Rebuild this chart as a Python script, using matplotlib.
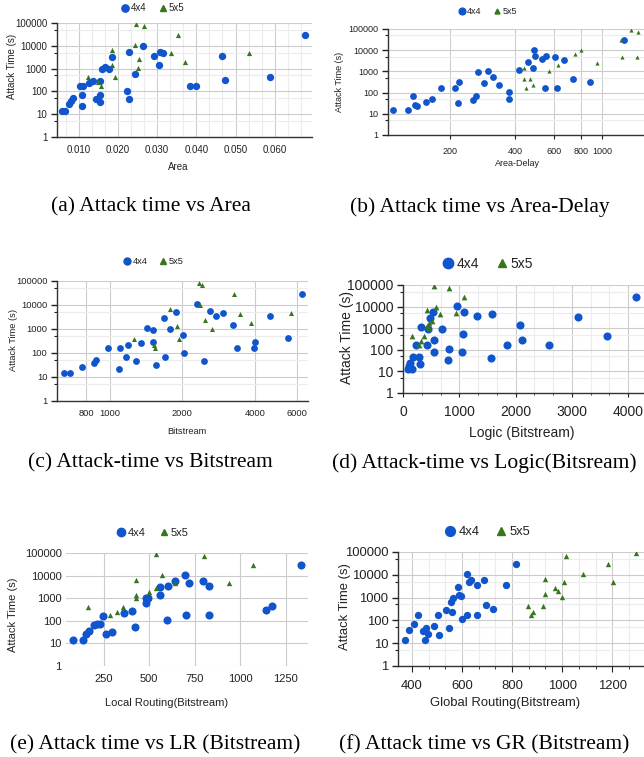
import numpy as np
import matplotlib.pyplot as plt
from matplotlib.lines import Line2D

plt.rcParams['font.family'] = ['Liberation Sans', 'DejaVu Sans']

BLUE = '#1155cc'
GREEN = '#38761d'
W, H = 644, 757

# (a) attack time vs area
area_4x4 = [0.0057, 0.0065, 0.0075, 0.0080, 0.0086, 0.0103, 0.0112, 0.0109, 0.0109, 0.0127,
            0.0137, 0.0144, 0.0154, 0.0154, 0.0154, 0.0159, 0.0167, 0.0178, 0.0186, 0.0224,
            0.0229, 0.0228, 0.0245, 0.0263, 0.0293, 0.0306, 0.0308, 0.0316, 0.0465, 0.0474,
            0.0384, 0.0400, 0.0587, 0.0676]
area_4x4_time = [14, 14, 28, 37, 52, 170, 170, 73, 24, 240,
                 285, 46, 69, 295, 33, 960, 1140, 960, 3070, 107,
                 45, 5600, 580, 10300, 3600, 1440, 5600, 4700, 3400, 305,
                 170, 170, 445, 29500]
area_5x5 = [0.0123, 0.0149, 0.0156, 0.0184, 0.0184, 0.0193, 0.0246, 0.0268, 0.0244, 0.0255,
            0.0251, 0.0335, 0.0353, 0.0370, 0.0534]
area_5x5_time = [414, 268, 172, 6700, 1400, 414, 90000, 71000, 10700, 2600,
                 1030, 4700, 28600, 1900, 4700]

# (b) attack time vs area-delay
ad_4x4 = [110, 129, 136, 138, 141, 156, 165, 183, 212, 221, 218, 255, 264, 268, 288, 298, 316,
          335, 374, 372, 414, 457, 482, 485, 490, 529, 552, 548, 605, 621, 668, 735, 875, 1265]
ad_4x4_time = [14.5, 14.5, 71, 27, 23, 38, 51, 170, 170, 300, 32, 46, 66, 920, 270, 990, 570,
               225, 105, 49, 1180, 2900, 1420, 10700, 5600, 3750, 5600, 174, 4650, 174, 3500,
               445, 300, 29000]
ad_5x5 = [436, 436, 449, 468, 480, 572, 627, 750, 802, 948, 1222, 1230, 1352, 1458, 1449]
ad_5x5_time = [1420, 430, 174, 430, 233, 1020, 1900, 6700, 10700, 2600, 29000, 4650, 89000,
               72000, 4650]

# (c) attack time vs bitstream
bits_4x4 = [644, 683, 767, 859, 881, 985, 1090, 1107, 1165, 1195, 1282, 1353, 1428, 1507, 1513,
            1552, 1680, 1701, 1773, 1883, 2006, 2039, 2293, 2459, 2597, 2748, 2949, 3243, 3360,
            3953, 3993, 4605, 5483, 6265]
bits_4x4_time = [14, 14, 27, 37, 49, 162, 22, 166, 68, 215, 46, 262, 1100, 910, 297,
                 32, 2870, 68, 970, 5300, 545, 103, 10700, 45, 5600, 3600, 4460, 1420, 166,
                 166, 297, 3380, 437, 27800]
bits_5x5 = [1265, 1527, 1546, 1779, 1900, 1945, 2338, 2415, 2361, 2478, 2662, 3274, 3467, 3852, 5640]
bits_5x5_time = [400, 223, 166, 6600, 1370, 400, 85000, 70000, 10300, 2450, 1000, 27800, 4360,
                 1780, 4650]

# (d) attack time vs logic bitstream
logic_4x4 = [89, 160, 130, 110, 177, 290, 295, 225, 325, 420, 437, 485, 532, 555, 544, 691, 798,
             821, 957, 1046, 1058, 1093, 1323, 1566, 1589, 1843, 2080, 2115, 2600, 3114, 3634, 4136]
logic_4x4_time = [13.3, 13.3, 24, 18, 47, 47, 22.6, 170, 1100, 160, 950, 2900, 5500, 290, 75, 930,
                  35, 107, 11000, 75, 550, 5650, 3700, 44, 4750, 165, 1420, 290, 170, 3330, 445,
                  29000]
logic_5x5 = [160, 278, 313, 366, 425, 431, 467, 514, 579, 650, 544, 809, 1081, 945, 460]
logic_5x5_time = [415, 170, 260, 415, 6600, 1290, 1700, 2180, 10000, 4600, 90000, 76000, 29000,
                  4900, 1000]

# (e) attack time vs local routing bitstream
lr_4x4 = [80, 137, 155, 168, 195, 214, 232, 245, 263, 296, 363, 405, 423, 484, 484, 496, 560, 560,
          600, 606, 642, 697, 701, 719, 797, 828, 828, 1144, 1172, 1336]
lr_4x4_time = [13.9, 13.9, 25.6, 36, 64, 72, 69, 168, 25, 32.5, 230, 280, 51, 1000, 590, 1000,
               1400, 3080, 108, 3640, 5500, 10900, 180, 4600, 5500, 3300, 180, 300, 450, 28000]
lr_5x5 = [164, 286, 323, 359, 429, 429, 429, 500, 536, 569, 536, 642, 801, 938, 1071]
lr_5x5_time = [425, 180, 236, 425, 6500, 1400, 1060, 1960, 2770, 10900, 91000, 4600, 71000,
               4900, 28000]

# (f) attack time vs global routing bitstream
gr_4x4 = [371, 387, 409, 423, 443, 453, 456, 464, 488, 504, 509, 537, 547, 557, 559, 565, 585,
          588, 596, 599, 620, 621, 628, 636, 661, 660, 688, 696, 725, 775, 816]
gr_4x4_time = [14.3, 36.6, 67, 167, 33, 14.3, 46, 26, 55, 167, 24, 275, 48, 640, 233, 960, 2900,
               1250, 1140, 112, 167, 11200, 4800, 5900, 3450, 167, 5700, 457, 305, 3700, 28700]
gr_5x5 = [863, 883, 877, 923, 931, 933, 973, 984, 1000, 1009, 1016, 1083, 1184, 1204, 1297]
gr_5x5_time = [415, 234, 178, 415, 1390, 6580, 2560, 1950, 1070, 4680, 69000, 10900, 28700,
               4800, 91000]

y_ticks = [1, 10, 100, 1000, 10000, 100000]
y_minor = [5, 50, 500, 5000, 50000]

panels = [
    dict(x4=area_4x4, y4=area_4x4_time, x5=area_5x5, y5=area_5x5_time,
         box=(57, 312, 23, 137), xlim=(0.0045, 0.0695), log=False,
         xticks=[0.01, 0.02, 0.03, 0.04, 0.05, 0.06],
         xlabels=['0.010', '0.020', '0.030', '0.040', '0.050', '0.060'], thirds=True,
         fs=7, s4=28, s5=14, spines=True, xtick_len=0,
         leg=(152, 8), ylab=(12, 66), xlab=(178, 167, 'Area'),
         cap=(151, 207, '(a) Attack time vs Area')),
    dict(x4=ad_4x4, y4=ad_4x4_time, x5=ad_5x5, y5=ad_5x5_time,
         box=(388, 644, 29, 135), xlim=(104, 1555), log=True,
         xticks=[200, 400, 600, 800, 1000], xlabels=['200', '400', '600', '800', '1000'],
         thirds=False, fs=6.5, s4=24, s5=9, spines=True, xtick_len=3,
         leg=(487, 12), ylab=(340, 82), xlab=(517, 164, 'Area-Delay'),
         cap=(480, 207, '(b) Attack time vs Area-Delay')),
    dict(x4=bits_4x4, y4=bits_4x4_time, x5=bits_5x5, y5=bits_5x5_time,
         box=(57, 308, 281, 401), xlim=(605, 6640), log=True,
         xticks=[800, 1000, 2000, 4000, 6000], xlabels=['800', '1000', '2000', '4000', '6000'],
         thirds=False, fs=6.7, s4=24, s5=13, spines=True, xtick_len=0,
         leg=(153, 262), ylab=(13, 340), xlab=(187, 431, 'Bitstream'),
         cap=(150, 463, '(c) Attack-time vs Bitstream')),
    dict(x4=logic_4x4, y4=logic_4x4_time, x5=logic_5x5, y5=logic_5x5_time,
         box=(403, 644, 285, 393), xlim=(0, 4284), log=False,
         xticks=[0, 1000, 2000, 3000, 4000], xlabels=['0', '1000', '2000', '3000', '4000'],
         thirds=True, fs=10, s4=34, s5=17, spines=True, xtick_len=3,
         leg=(487, 264), ylab=(347, 337), xlab=(522, 433, 'Logic (Bitstream)'),
         cap=(484, 463, '(d) Attack-time vs Logic(Bitsream)')),
    dict(x4=lr_4x4, y4=lr_4x4_time, x5=lr_5x5, y5=lr_5x5_time,
         box=(66, 308, 553, 666), xlim=(44, 1372), log=False,
         xticks=[250, 500, 750, 1000, 1250], xlabels=['250', '500', '750', '1000', '1250'],
         thirds=False, fs=8, s4=34, s5=15, spines=False, xtick_len=0,
         leg=(152, 533), ylab=(13, 615), xlab=(167, 703, 'Local Routing(Bitstream)'),
         cap=(155, 745, '(e) Attack time vs LR (Bitstream)')),
    dict(x4=gr_4x4, y4=gr_4x4_time, x5=gr_5x5, y5=gr_5x5_time,
         box=(398, 644, 552, 666), xlim=(344, 1327), log=False,
         xticks=[400, 600, 800, 1000, 1200], xlabels=['400', '600', '800', '1000', '1200'],
         thirds=True, fs=9.4, s4=28, s5=15, spines=True, xtick_len=4,
         leg=(487, 532), ylab=(345, 607), xlab=(505, 703, 'Global Routing(Bitstream)'),
         cap=(484, 745, '(f) Attack time vs GR (Bitstream)')),
]

fig = plt.figure(figsize=(W / 100, H / 100), dpi=100)

for p in panels:
    x0, x1, y0, y1 = p['box']
    ax = fig.add_axes([x0 / W, 1 - y1 / H, (x1 - x0) / W, (y1 - y0) / H])
    ax.set_yscale('log')
    if p['log']:
        ax.set_xscale('log')
    ax.set_ylim(1, 100000)
    ax.set_xlim(*p['xlim'])

    ax.scatter(p['x4'], p['y4'], s=p['s4'], color=BLUE, marker='o', linewidths=0, zorder=3)
    ax.scatter(p['x5'], p['y5'], s=p['s5'], color=GREEN, marker='^', linewidths=0, zorder=3)

    ax.set_yticks(y_ticks)
    ax.set_yticklabels([str(v) for v in y_ticks])
    ax.set_xticks(p['xticks'])
    ax.set_xticklabels(p['xlabels'])
    minor_x = []
    if p['thirds']:
        step = p['xticks'][1] - p['xticks'][0]
        k = np.arange(-6, 3 * len(p['xticks']) + 6)
        minor_x = [p['xticks'][0] + i * step / 3 for i in k if i % 3 != 0]
        minor_x = [m for m in minor_x if p['xlim'][0] < m < p['xlim'][1]]
    ax.set_xticks(minor_x, minor=True)
    ax.set_yticks(y_minor if p['spines'] else [], minor=True)
    ax.tick_params(axis='both', which='both', labelsize=p['fs'], colors='#222222')
    ax.tick_params(axis='y', which='major', length=4 if p['spines'] else 0, width=1, pad=3)
    ax.tick_params(axis='y', which='minor', length=2.5, width=0.8)
    ax.tick_params(axis='x', which='major', length=p['xtick_len'], pad=6)
    ax.tick_params(axis='x', which='minor', length=p['xtick_len'] * 0.6)

    ax.grid(True, which='major', color='#cccccc', linewidth=0.8, zorder=0)
    ax.grid(True, which='minor', color='#ececec', linewidth=0.8, zorder=0)
    ax.set_axisbelow(True)
    for side in ['top', 'right']:
        ax.spines[side].set_visible(False)
    for side in ['left', 'bottom']:
        if p['spines']:
            ax.spines[side].set_color('#333333')
            ax.spines[side].set_linewidth(1)
        else:
            ax.spines[side].set_visible(False)

    handles = [Line2D([], [], marker='o', color=BLUE, linestyle='', markersize=p['fs'] * 0.75),
               Line2D([], [], marker='^', color=GREEN, linestyle='', markersize=p['fs'] * 0.55)]
    fig.legend(handles, ['4x4', '5x5'], loc='center', ncol=2, frameon=False,
               bbox_to_anchor=(p['leg'][0] / W, 1 - p['leg'][1] / H),
               fontsize=p['fs'], handletextpad=0.1, columnspacing=1.2, handlelength=1.0,
               labelcolor='#222222')

    fig.text(p['ylab'][0] / W, 1 - p['ylab'][1] / H, 'Attack Time (s)', rotation=90,
             ha='center', va='center', fontsize=p['fs'], color='#222222')
    fig.text(p['xlab'][0] / W, 1 - p['xlab'][1] / H, p['xlab'][2],
             ha='center', va='center', fontsize=p['fs'], color='#222222')
    fig.text(p['cap'][0] / W, 1 - p['cap'][1] / H, p['cap'][2], ha='center', va='center',
             fontsize=15.5, family=['Liberation Serif', 'DejaVu Serif'], color='black')

fig.savefig('out.png', dpi=100)
